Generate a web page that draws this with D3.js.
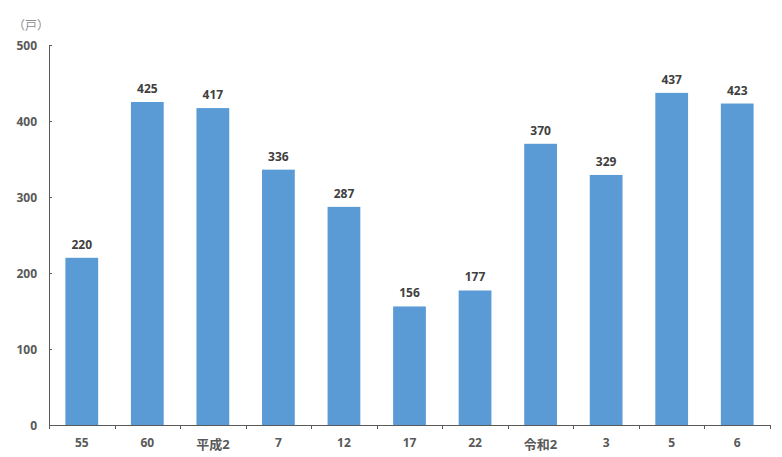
<!DOCTYPE html>
<html><head><meta charset="utf-8">
<script src="https://cdn.jsdelivr.net/npm/d3@7"></script>
<style>body{margin:0;background:#fff;} text{font-family:"Open Sans","Noto Sans CJK JP",sans-serif;}</style>
</head><body><svg id="c" width="782" height="457"></svg>
<script>
const categories = ["55","60","平成2","7","12","17","22","令和2","3","5","6"];
const values = [220,425,417,336,287,156,177,370,329,437,423];
const yTicks = [0,100,200,300,400,500];
const unitLabel = "（戸）";

const svg = d3.select("#c");
const m = {l:49, r:770, t:45, b:425};
const x = d3.scaleBand().domain(categories).range([m.l, m.r]).paddingInner(0.5).paddingOuter(0.25);
const y = d3.scaleLinear().domain([0,500]).range([m.b, m.t]);

svg.selectAll("rect.bar").data(values).enter().append("rect")
  .attr("x",(d,i)=>x(categories[i])).attr("width",x.bandwidth())
  .attr("y",d=>y(d)).attr("height",d=>y(0)-y(d)).attr("fill","#5B9BD5");

// y axis
const ya = svg.append("g").attr("transform",`translate(${m.l},0)`)
  .call(d3.axisRight(y).tickValues(yTicks).tickSize(3).tickFormat(""));
ya.select(".domain").attr("stroke","#595959").attr("d",`M3,${m.t}.5H0.5V${m.b}`);
ya.selectAll(".tick line").attr("stroke","#595959");
svg.selectAll("text.yl").data(yTicks).enter().append("text")
  .attr("x",37).attr("y",d=>y(d)+4.5).attr("text-anchor","end")
  .attr("font-size",12).attr("font-weight","bold").attr("fill","#595959").text(d=>d);

// x axis
const bounds = d3.range(categories.length+1).map(i=>m.l + i*(m.r-m.l)/categories.length);
svg.append("line").attr("x1",m.l).attr("x2",m.r).attr("y1",m.b+0.5).attr("y2",m.b+0.5).attr("stroke","#595959");
svg.selectAll("line.xt").data(bounds).enter().append("line")
  .attr("x1",d=>Math.round(d)+0.5).attr("x2",d=>Math.round(d)+0.5).attr("y1",m.b).attr("y2",m.b+4).attr("stroke","#595959");
svg.selectAll("text.xl").data(categories).enter().append("text")
  .attr("x",d=>x(d)+x.bandwidth()/2).attr("y",d=>/^\d+$/.test(d)?447:449).attr("text-anchor","middle")
  .attr("font-size",d=>/^\d+$/.test(d)?12:13).attr("font-weight","bold").attr("fill","#595959").text(d=>d);

// value labels
svg.selectAll("text.vl").data(values).enter().append("text")
  .attr("x",(d,i)=>x(categories[i])+x.bandwidth()/2).attr("y",d=>y(d)-9)
  .attr("text-anchor","middle").attr("font-size",12).attr("font-weight","bold").attr("fill","#404040").text(d=>d);

svg.append("text").attr("x",31).attr("y",30).attr("text-anchor","middle")
  .attr("font-size",12).attr("fill","#8c8c8c").text(unitLabel);
</script></body></html>
